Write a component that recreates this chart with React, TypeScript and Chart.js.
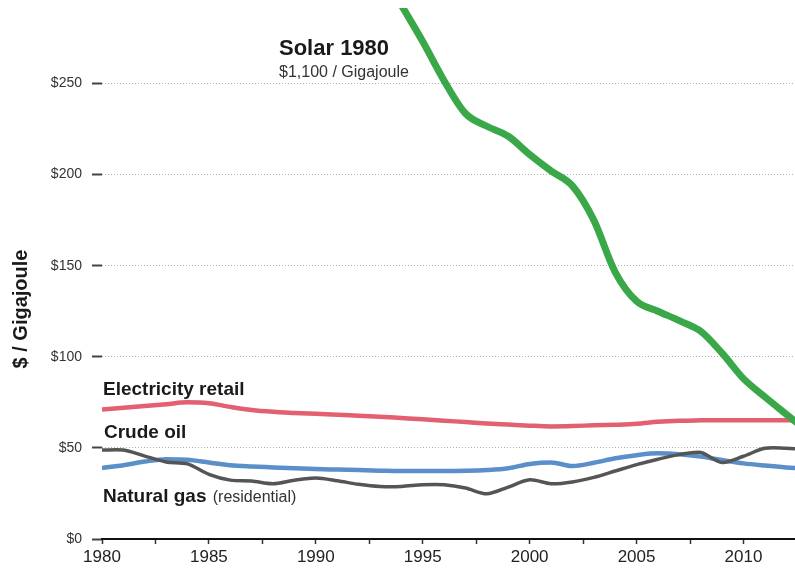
import { useEffect, useRef } from 'react';
import { Chart, registerables } from 'chart.js';

Chart.register(...registerables);

const FONT = '"Liberation Sans", Arial, Helvetica, sans-serif';

const years = [
  1980, 1981, 1982, 1983, 1984, 1985, 1986, 1987, 1988, 1989,
  1990, 1991, 1992, 1993, 1994, 1995, 1996, 1997, 1998, 1999,
  2000, 2001, 2002, 2003, 2004, 2005, 2006, 2007, 2008, 2009,
  2010, 2011, 2012, 2013,
];

const electricityRetail = [
  71, 72, 73, 74, 75, 74.5, 72.5, 70.8, 69.8, 69.2,
  68.7, 68.2, 67.7, 67.1, 66.4, 65.7, 64.9, 64.2, 63.4, 62.8,
  62.2, 61.8, 62, 62.4, 62.7, 63.2, 64.3, 64.9, 65.1, 65.2,
  65.2, 65.2, 65.2, 65.2,
];

const crudeOil = [
  39, 40.5, 42.5, 43.8, 43.5, 42, 40.5, 39.8, 39.3, 38.8,
  38.4, 38.1, 37.8, 37.5, 37.3, 37.3, 37.3, 37.4, 37.8, 38.8,
  41.2, 42, 40, 41.8, 44.3, 46, 47, 46.5, 45.2, 43.3,
  41.5, 40.3, 39.3, 38.6,
];

const naturalGas = [
  48.8, 48.8, 45.5, 42.3, 41.2, 35.5, 32.3, 31.8, 30.3, 32.3,
  33.5, 32, 30, 28.8, 28.8, 29.8, 29.8, 28, 24.8, 28.5,
  32.5, 30.3, 31.3, 33.8, 37.3, 40.8, 43.8, 46.3, 47.5, 42,
  45.4, 49.8, 49.8, 49.2,
];

const solarYears = [
  1993, 1994, 1995, 1996, 1997, 1998, 1999, 2000, 2001, 2002,
  2003, 2004, 2005, 2006, 2007, 2008, 2009, 2010, 2011, 2012, 2013,
];

const solar = [
  313, 293, 273, 251.5, 233.5, 226.5, 221, 211, 202, 193.8,
  175, 146.5, 130.5, 125, 119.8, 114, 102, 88, 78, 68.5, 59,
];

const seriesNames = ['Solar', 'Natural gas', 'Crude oil', 'Electricity retail'];

const pts = (xs: number[], ys: number[]) => xs.map((x, i) => ({ x, y: ys[i] }));

const textPlugin = {
  id: 'textLabels',
  afterDraw(chart: any) {
    const { ctx } = chart;
    const xs = chart.scales.x;
    const x0 = xs.getPixelForValue(1980);
    ctx.save();
    ctx.fillStyle = '#1a1a1a';
    ctx.textAlign = 'left';
    ctx.textBaseline = 'alphabetic';

    ctx.font = `bold 22px ${FONT}`;
    ctx.fillText('Solar 1980', 279, 55);
    ctx.font = `16px ${FONT}`;
    ctx.fillStyle = '#333';
    ctx.fillText('$1,100 / Gigajoule', 279, 77);

    ctx.fillStyle = '#1a1a1a';
    ctx.font = `bold 19px ${FONT}`;
    ctx.fillText('Electricity retail', x0 + 1, 395);
    ctx.fillText('Crude oil', x0 + 2, 438);
    ctx.fillText('Natural gas', x0 + 1, 502);
    const w = ctx.measureText('Natural gas ').width;
    ctx.font = `16px ${FONT}`;
    ctx.fillStyle = '#333';
    ctx.fillText('(residential)', x0 + 2 + w, 502);

    ctx.translate(21, 309);
    ctx.rotate(-Math.PI / 2);
    ctx.textAlign = 'center';
    ctx.textBaseline = 'middle';
    ctx.font = `bold 20px ${FONT}`;
    ctx.fillStyle = '#1a1a1a';
    ctx.fillText('$ / Gigajoule', 0, 0);
    ctx.restore();
  },
};

export default function App() {
  const ref = useRef<HTMLCanvasElement | null>(null);

  useEffect(() => {
    if (!ref.current) return;
    const chart = new Chart(ref.current, {
      type: 'line',
      data: {
        datasets: [
          {
            label: seriesNames[0],
            data: pts(solarYears, solar),
            borderColor: '#3aa848',
            borderWidth: 7,
            pointRadius: 0,
            cubicInterpolationMode: 'monotone',
          },
          {
            label: seriesNames[1],
            data: pts(years, naturalGas),
            borderColor: '#555555',
            borderWidth: 3.5,
            pointRadius: 0,
            tension: 0.3,
          },
          {
            label: seriesNames[2],
            data: pts(years, crudeOil),
            borderColor: '#5a8fca',
            borderWidth: 4.5,
            pointRadius: 0,
            cubicInterpolationMode: 'monotone',
          },
          {
            label: seriesNames[3],
            data: pts(years, electricityRetail),
            borderColor: '#e2606f',
            borderWidth: 4.5,
            pointRadius: 0,
            cubicInterpolationMode: 'monotone',
          },
        ],
      },
      options: {
        animation: false,
        responsive: true,
        maintainAspectRatio: false,
        layout: { padding: { top: 8, left: 0, right: 0, bottom: 0 } },
        plugins: {
          legend: { display: false },
          tooltip: { enabled: false },
        },
        scales: {
          x: {
            type: 'linear',
            min: 1980,
            max: 2012.41,
            afterFit: (s: any) => {
              s.height = 32;
              s.paddingLeft = 0;
              s.paddingRight = 0;
            },
            ticks: {
              stepSize: 2.5,
              includeBounds: false,
              autoSkip: false,
              maxRotation: 0,
              padding: 3,
              color: '#222',
              font: { family: FONT, size: 17 },
              callback: (v: any) => (Number(v) % 5 === 0 ? String(v) : ''),
            },
            grid: {
              drawOnChartArea: false,
              tickLength: 5,
              tickColor: '#333',
              tickWidth: 1.5,
            },
            border: { display: true, color: '#111', width: 2 },
          },
          y: {
            min: 0,
            max: 291.4,
            afterFit: (s: any) => {
              s.width = 102;
              s.paddingTop = 0;
              s.paddingBottom = 0;
            },
            ticks: {
              stepSize: 50,
              includeBounds: false,
              padding: 10,
              color: '#333',
              font: { family: FONT, size: 14 },
              callback: (v: any) => '$' + v,
            },
            grid: {
              color: (c: any) => (c.tick && c.tick.value === 0 ? 'rgba(0,0,0,0)' : '#b0b0b0'),
              lineWidth: 1,
              tickColor: '#444',
              tickLength: 10,
              tickWidth: 2,
            },
            border: { display: false, dash: [1, 2] },
          },
        },
      },
      plugins: [textPlugin],
    });
    return () => chart.destroy();
  }, []);

  return (
    <div style={{ position: 'fixed', left: 0, top: 0, width: 795, height: 571, background: '#fff' }}>
      <canvas ref={ref} />
    </div>
  );
}
